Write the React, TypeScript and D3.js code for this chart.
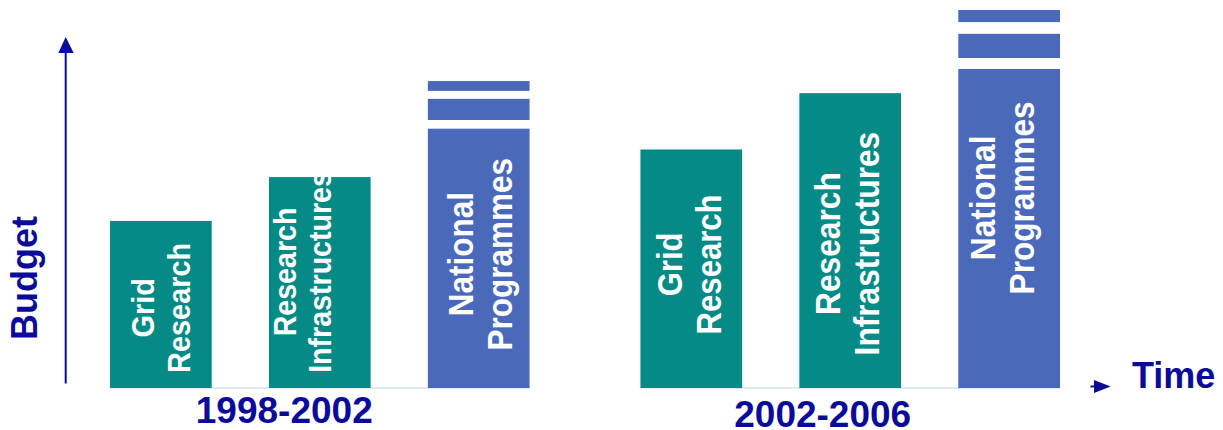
import React, { useEffect, useRef } from 'react';
import * as d3 from 'd3';

// Budget per programme and period (arbitrary units)
const periods = ['1998-2002', '2002-2006'];
const programmes = ['Grid Research', 'Research Infrastructures', 'National Programmes'];
const labelLines = [
  ['Grid', 'Research'],
  ['Research', 'Infrastructures'],
  ['National', 'Programmes'],
];
const budget1998 = [44.2, 55.8, 68.6];
const budget2002 = [63.1, 78.0, 84.4];
// "broken" continuation stripes drawn on top of the National Programmes bar
const overflow1998 = [
  [70.9, 76.5],
  [78.6, 81.2],
];
const overflow2002 = [
  [87.3, 93.7],
  [96.8, 100],
];

const W = 1223;
const H = 430;
const NAVY = '#0b0b9a';
const TEAL = '#068a85';
const BLUE = '#4b69bb';
const FONT = 'Liberation Sans, Arial, Helvetica, sans-serif';

// label layout, per bar (period-major order)
const labelMid = [21.2, 30.7, 35.4, 32.7, 38.2, 50.3]; // in budget units
const labelShift = [0, -17.4, 1, -1.8, -3.5, -7];
const labelSize = [28.9, 28.6, 31.5, 31.1, 31.7, 31.6];
const periodShift = [-35.5, -27.5];
const periodBase = [423.3, 427];

export default function App() {
  const svgRef = useRef<SVGSVGElement>(null);

  useEffect(() => {
    if (!svgRef.current) return;
    const svg = d3.select(svgRef.current);
    svg.selectAll('*').remove();

    const y = d3.scaleLinear().domain([0, 100]).range([388, 10]);
    const x0 = d3.scaleBand().domain(periods).range([110, 1060]).paddingInner(0.209);
    const x1 = d3
      .scaleBand()
      .domain(programmes)
      .range([0, x0.bandwidth()])
      .paddingInner(0.36);

    const budgets = [budget1998, budget2002];
    const overflows = [overflow1998, overflow2002];

    // faint baselines under each period
    periods.forEach((p) => {
      svg
        .append('line')
        .attr('x1', x0(p)!)
        .attr('x2', x0(p)! + x0.bandwidth())
        .attr('y1', y(0))
        .attr('y2', y(0))
        .attr('stroke', '#d3e5ec')
        .attr('stroke-width', 1.5);
    });

    periods.forEach((p, pi) => {
      const g = svg.append('g').attr('transform', `translate(${x0(p)},0)`);

      programmes.forEach((prog, i) => {
        const v = budgets[pi][i];
        const color = i < 2 ? TEAL : BLUE;
        g.append('rect')
          .attr('x', x1(prog)!)
          .attr('y', y(v))
          .attr('width', x1.bandwidth())
          .attr('height', y(0) - y(v))
          .attr('fill', color);

        if (i === 2) {
          overflows[pi].forEach(([lo, hi]) => {
            g.append('rect')
              .attr('x', x1(prog)!)
              .attr('y', y(hi))
              .attr('width', x1.bandwidth())
              .attr('height', y(lo) - y(hi))
              .attr('fill', color);
          });
        }

        // rotated two-line white label
        const k = pi * 3 + i;
        const f = labelSize[k];
        const lead = f * 1.24;
        const cap = f * 0.716 * 1.1;
        const cx = x1(prog)! + x1.bandwidth() / 2 + labelShift[k];
        const b1 = cx - (lead - cap) / 2;
        labelLines[i].forEach((line, li) => {
          g.append('text')
            .attr(
              'transform',
              `translate(${b1 + li * lead},${y(labelMid[k])}) rotate(-90) scale(1,1.1)`
            )
            .attr('text-anchor', 'middle')
            .attr('fill', '#ffffff')
            .attr('font-family', FONT)
            .attr('font-weight', 'bold')
            .attr('font-size', `${f}px`)
            .text(line);
        });
      });

      // period label
      svg
        .append('text')
        .attr('x', x0(p)! + x0.bandwidth() / 2 + periodShift[pi])
        .attr('y', periodBase[pi])
        .attr('text-anchor', 'middle')
        .attr('fill', NAVY)
        .attr('font-family', FONT)
        .attr('font-weight', 'bold')
        .attr('font-size', '37px')
        .text(p);
    });

    // Budget axis (vertical arrow)
    svg
      .append('line')
      .attr('x1', 65.7)
      .attr('x2', 65.7)
      .attr('y1', 383.5)
      .attr('y2', 50)
      .attr('stroke', NAVY)
      .attr('stroke-width', 2);
    svg
      .append('path')
      .attr('d', 'M65.7,37 L58.3,53 L73.7,53 Z')
      .attr('fill', NAVY);
    svg
      .append('text')
      .attr('transform', 'translate(37.4,340) rotate(-90)')
      .attr('fill', NAVY)
      .attr('font-family', FONT)
      .attr('font-weight', 'bold')
      .attr('font-size', '36px')
      .text('Budget');

    // Time arrow
    svg
      .append('line')
      .attr('x1', 1090.5)
      .attr('x2', 1096)
      .attr('y1', 386.5)
      .attr('y2', 386.5)
      .attr('stroke', NAVY)
      .attr('stroke-width', 2);
    svg
      .append('path')
      .attr('d', 'M1110.7,386.5 L1094,380 L1094,393 Z')
      .attr('fill', NAVY);
    svg
      .append('text')
      .attr('x', 1132)
      .attr('y', 388.3)
      .attr('fill', NAVY)
      .attr('font-family', FONT)
      .attr('font-weight', 'bold')
      .attr('font-size', '36px')
      .text('Time');
  }, []);

  return (
    <svg
      ref={svgRef}
      width={W}
      height={H}
      style={{ position: 'absolute', left: 0, top: 0, background: '#ffffff' }}
    />
  );
}
